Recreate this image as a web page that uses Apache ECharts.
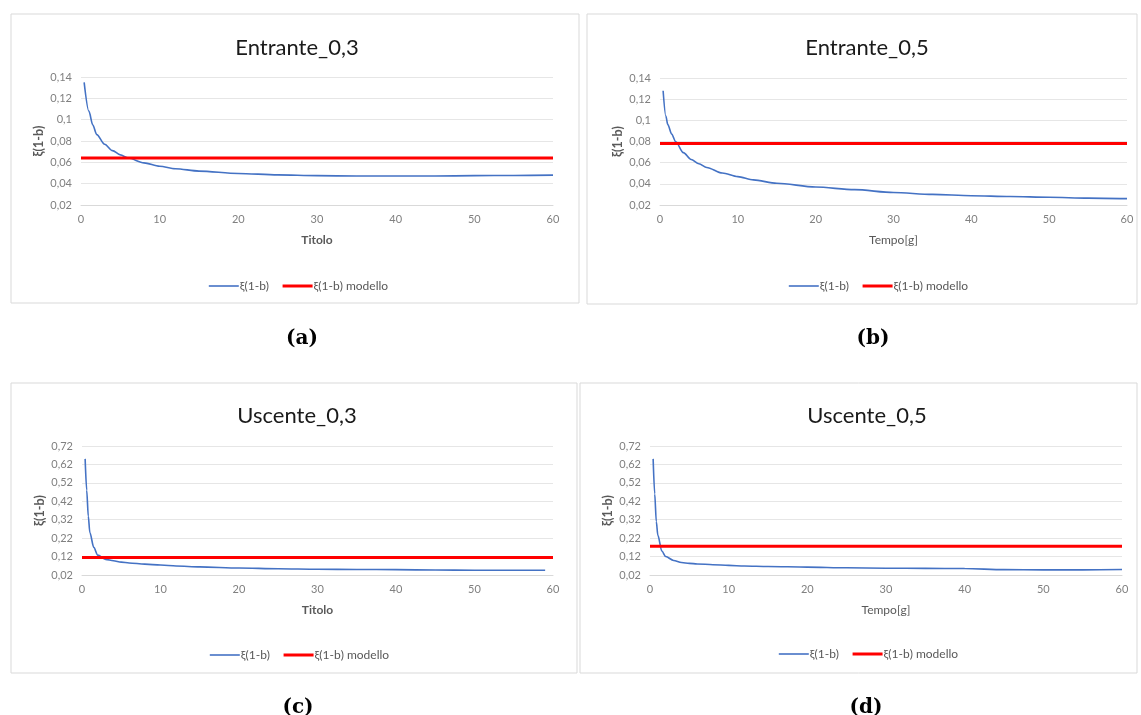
<!DOCTYPE html>
<html>
<head>
<meta charset="utf-8">
<script src="https://cdn.jsdelivr.net/npm/echarts@6/dist/echarts.min.js"></script>
<style>
html,body{margin:0;padding:0;background:#fff;}
#c{width:1141px;height:715px;}
</style>
</head>
<body>
<div id="c"></div>
<script>
// ---- data ----
const titles = ['Entrante_0,3', 'Entrante_0,5', 'Uscente_0,3', 'Uscente_0,5'];
const captions = ['(a)', '(b)', '(c)', '(d)'];
const xNames = ['Titolo', 'Tempo[g]', 'Titolo', 'Tempo[g]'];
const seriesNames = ['ξ(1-b)', 'ξ(1-b) modello'];

const xA = [0.4, 1, 1.5, 2, 3, 4, 5, 6, 8, 10, 12, 15, 20, 25, 30, 35, 40, 45, 50, 55, 60];
const yA = [0.135, 0.108, 0.095, 0.086, 0.077, 0.071, 0.067, 0.064, 0.0595, 0.0563, 0.054, 0.0518, 0.0496, 0.0482, 0.0475, 0.0472, 0.0472, 0.0472, 0.0475, 0.0477, 0.048];

const xB = [0.4, 0.75, 1, 1.5, 2, 3, 4, 5, 6, 8, 10, 12, 15, 20, 25, 30, 35, 40, 45, 50, 55, 60];
const yB = [0.128, 0.104, 0.096, 0.087, 0.080, 0.0695, 0.063, 0.059, 0.0555, 0.0502, 0.0468, 0.0437, 0.0405, 0.037, 0.0345, 0.0318, 0.030, 0.0288, 0.028, 0.0273, 0.0265, 0.026];

const xC = [0.4, 0.6, 0.8, 1, 1.5, 2, 3, 4, 5, 6, 8, 10, 12, 15, 20, 25, 30, 35, 40, 45, 50, 55, 59];
const yC = [0.65, 0.48, 0.34, 0.25, 0.17, 0.128, 0.105, 0.097, 0.09, 0.085, 0.079, 0.074, 0.069, 0.064, 0.058, 0.054, 0.051, 0.05, 0.049, 0.047, 0.046, 0.046, 0.046];

const xD = [0.4, 0.6, 0.8, 1, 1.5, 2, 3, 4, 5, 6, 8, 10, 12, 15, 20, 25, 30, 35, 40, 45, 50, 55, 60];
const yD = [0.65, 0.46, 0.31, 0.235, 0.15, 0.12, 0.099, 0.088, 0.083, 0.08, 0.076, 0.072, 0.069, 0.066, 0.063, 0.059, 0.057, 0.056, 0.055, 0.049, 0.048, 0.048, 0.05];

const modelX = [0, 60];
const modelValues = [0.064, 0.078, 0.115, 0.176];

const xTicks = [0, 10, 20, 30, 40, 50, 60];
const yTicksSmall = [0.02, 0.04, 0.06, 0.08, 0.1, 0.12, 0.14];
const yTicksLarge = [0.02, 0.12, 0.22, 0.32, 0.42, 0.52, 0.62, 0.72];

// ---- layout ----
const grids = [
  {left: 81, top: 77, width: 472, height: 128},
  {left: 660, top: 78, width: 467, height: 127},
  {left: 82, top: 446, width: 471, height: 129},
  {left: 650, top: 446, width: 472, height: 129}
];
const panels = [
  {x: 11, y: 14, w: 568, h: 289},
  {x: 587, y: 14, w: 550, h: 290},
  {x: 11, y: 383, w: 566, h: 290},
  {x: 580, y: 383, w: 557, h: 290}
];
const titlePos = [[292, 32], [862, 32], [292, 400], [862, 400]];
const captionPos = [[297, 324], [868, 324], [293, 693], [861, 693]];
const legendPos = [[203, 275], [783, 275], [204, 644], [773, 643]];

const FONT = 'Lato, "Open Sans", "Noto Sans", sans-serif';
const xs = [xA, xB, xC, xD];
const ys = [yA, yB, yC, yD];
const yTickSets = [yTicksSmall, yTicksSmall, yTicksLarge, yTicksLarge];

const fmt = v => String(Math.round(v * 100) / 100).replace('.', ',');

const option = {
  backgroundColor: '#ffffff',
  animation: false,
  title: [],
  legend: [],
  grid: grids.map(g => Object.assign({containLabel: false}, g)),
  xAxis: [],
  yAxis: [],
  series: [],
  graphic: panels.map(p => ({
    type: 'rect', shape: {x: p.x, y: p.y, width: p.w, height: p.h},
    style: {fill: 'none', stroke: '#d9d9d9', lineWidth: 1}, silent: true, z: -1
  }))
};

for (let i = 0; i < 4; i++) {
  option.title.push({
    text: titles[i], left: titlePos[i][0], top: titlePos[i][1], textAlign: 'center',
    textStyle: {fontFamily: FONT, fontSize: 22, fontWeight: 'normal', color: '#1a1a1a'}
  });
  option.title.push({
    text: captions[i], left: captionPos[i][0], top: captionPos[i][1], textAlign: 'center',
    textStyle: {fontFamily: '"DejaVu Serif", "Liberation Serif", serif', fontSize: 20, fontWeight: 'bold', color: '#000'}
  });
  option.legend.push({
    left: legendPos[i][0], top: legendPos[i][1], data: seriesNames,
    itemWidth: 30, itemHeight: 10, itemGap: 12, selectedMode: false,
    itemStyle: {opacity: 0},
    lineStyle: {width: 'inherit'},
    textStyle: {fontFamily: FONT, fontSize: 12, color: '#595959', padding: [0, 0, 0, -4]}
  });
  const ticks = yTickSets[i];
  option.xAxis.push({
    type: 'value', gridIndex: i, min: 0, max: 60, interval: 10,
    name: xNames[i], nameLocation: 'middle', nameGap: 29,
    nameTextStyle: {fontFamily: FONT, fontSize: 12, fontWeight: xNames[i] === 'Titolo' ? 'bold' : 'normal', color: '#595959'},
    axisLine: {show: true, lineStyle: {color: '#d9d9d9', width: 1}},
    axisTick: {show: false},
    axisLabel: {color: '#808080', fontSize: 11, fontFamily: FONT, margin: 9},
    splitLine: {show: false}
  });
  option.yAxis.push({
    type: 'value', gridIndex: i, min: ticks[0], max: ticks[ticks.length - 1],
    name: 'ξ(1-b)', nameLocation: 'middle', nameGap: 36,
    nameTextStyle: {fontFamily: FONT, fontSize: 12.5, fontWeight: 'bold', color: '#595959'},
    axisLine: {show: false},
    axisTick: {show: false, customValues: ticks},
    axisLabel: {color: '#808080', fontSize: 11, fontFamily: FONT, margin: 9, customValues: ticks, formatter: fmt},
    splitLine: {show: true, lineStyle: {color: '#e6e6e6', width: 1}}
  });
  option.series.push({
    name: seriesNames[0], type: 'line', xAxisIndex: i, yAxisIndex: i,
    data: xs[i].map((x, k) => [x, ys[i][k]]),
    showSymbol: false, symbol: 'none', smooth: 0.3, smoothMonotone: 'x',
    lineStyle: {color: '#4472C4', width: 1.6}, itemStyle: {color: '#4472C4'}, z: 2
  });
  option.series.push({
    name: seriesNames[1], type: 'line', xAxisIndex: i, yAxisIndex: i,
    data: modelX.map(x => [x, modelValues[i]]),
    showSymbol: false, symbol: 'none',
    lineStyle: {color: '#ff0000', width: 3}, itemStyle: {color: '#ff0000'}, z: 3
  });
}

const chart = echarts.init(document.getElementById('c'), null, {renderer: 'canvas'});
chart.setOption(option);
</script>
</body>
</html>
